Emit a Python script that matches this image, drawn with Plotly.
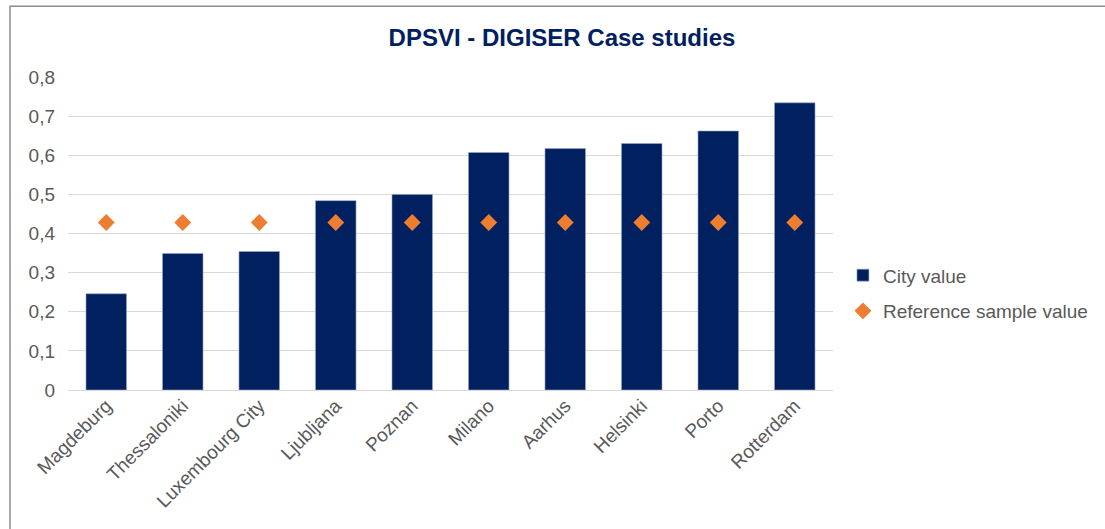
import plotly.graph_objects as go

cities = [
    "Magdeburg", "Thessaloniki", "Luxembourg City", "Ljubljana", "Poznan",
    "Milano", "Aarhus", "Helsinki", "Porto", "Rotterdam",
]
city_value = [0.246, 0.349, 0.354, 0.484, 0.500, 0.607, 0.617, 0.630, 0.662, 0.734]
reference_value = [0.428] * len(cities)

NAVY = "#002060"
ORANGE = "#ED7D31"
GREY_TEXT = "#595959"
FONT = "Liberation Sans, Arial, sans-serif"

fig = go.Figure()
fig.add_trace(
    go.Bar(
        x=cities,
        y=city_value,
        name="City value",
        marker=dict(color=NAVY, line=dict(width=0.6, color="#9aa8c4")),
        legendgroup="a",
    )
)
fig.add_trace(
    go.Scatter(
        x=cities,
        y=reference_value,
        name="Reference sample value",
        mode="markers",
        marker=dict(symbol="diamond", size=13, color=ORANGE),
        legendgroup="b",
    )
)

fig.update_layout(
    width=1105,
    height=529,
    paper_bgcolor="white",
    plot_bgcolor="white",
    separators=",.",
    font=dict(family=FONT, color=GREY_TEXT, size=19),
    margin=dict(l=68, r=272, t=77, b=139, autoexpand=False),
    bargap=0.47,
    title=dict(
        text="<b>DPSVI - DIGISER Case studies</b>",
        x=0.5086,
        xanchor="center",
        y=0.928,
        yanchor="middle",
        font=dict(family=FONT, size=24, color=NAVY),
    ),
    legend=dict(
        x=1.013,
        y=0.309,
        xanchor="left",
        yanchor="middle",
        font=dict(size=19, color=GREY_TEXT),
        tracegroupgap=8,
        traceorder="grouped",
    ),
    xaxis=dict(
        range=[-0.5, len(cities) - 0.5],
        tickangle=-45,
        showgrid=False,
        showline=False,
        automargin=False,
        tickfont=dict(size=19, color=GREY_TEXT),
    ),
    yaxis=dict(
        range=[0, 0.8],
        dtick=0.1,
        showgrid=True,
        gridcolor="#d9d9d9",
        gridwidth=1,
        zeroline=True,
        zerolinecolor="#d9d9d9",
        zerolinewidth=1,
        showline=False,
        automargin=False,
        ticklabelstandoff=12,
        tickfont=dict(size=19, color=GREY_TEXT),
    ),
    shapes=[
        dict(
            type="rect",
            xref="paper",
            yref="paper",
            x0=-0.0758,
            x1=1.5,
            y0=-0.6,
            y1=1.226,
            line=dict(color="#8c8c8c", width=1.5),
            fillcolor="rgba(0,0,0,0)",
            layer="below",
        )
    ],
)

fig.write_html(
    "out.html",
    config={"displayModeBar": False},
    post_script="document.body.style.margin = '0';",
)
